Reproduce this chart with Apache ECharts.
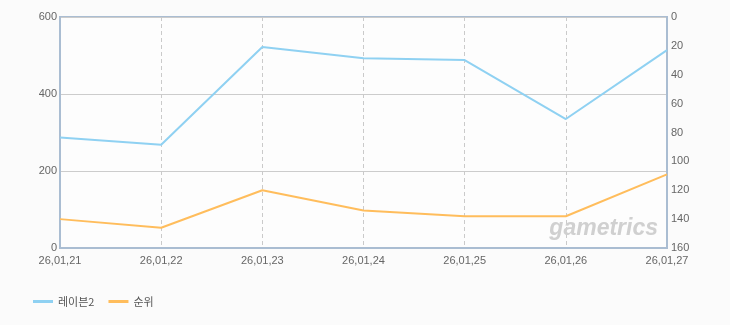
<!DOCTYPE html>
<html>
<head>
<meta charset="utf-8">
<script src="https://cdn.jsdelivr.net/npm/echarts@6/dist/echarts.min.js"></script>
<style>
html,body{margin:0;padding:0;background:#fbfbfb;}
#c{width:730px;height:325px;}
</style>
</head>
<body>
<div id="c"></div>
<script>
const categories = ['26,01,21','26,01,22','26,01,23','26,01,24','26,01,25','26,01,26','26,01,27'];
const raven2 = [287, 268, 522, 493, 488, 335, 514];
const rank = [140, 146, 120, 134, 138, 138, 109];
const leftTicks = {min: 0, max: 600, interval: 200};
const rightTicks = {min: 0, max: 160, interval: 20};

const chart = echarts.init(document.getElementById('c'));
const labelStyle = {color: '#666', fontSize: 11, fontFamily: 'Liberation Sans, Arial, sans-serif'};
chart.setOption({
  backgroundColor: '#fbfbfb',
  animation: false,
  grid: {left: 60, right: 63, top: 17, bottom: 77, show: true, backgroundColor: '#fdfdfd', borderColor: '#aabdd2', borderWidth: 2},
  legend: {
    left: 28, top: 291, icon: 'rect', itemWidth: 20, itemHeight: 3, itemGap: 14,
    textStyle: {color: '#555', fontSize: 11, fontFamily: 'Noto Sans CJK KR, sans-serif'},
    data: ['레이븐2', '순위']
  },
  xAxis: {
    type: 'category', data: categories, boundaryGap: false,
    axisLine: {show: true, lineStyle: {color: '#aabdd2', width: 2}},
    axisTick: {show: false},
    axisLabel: Object.assign({margin: 7, interval: 0}, labelStyle),
    splitLine: {show: true, lineStyle: {color: '#cacaca', type: [4, 3], width: 1}}
  },
  yAxis: [
    {type: 'value', min: leftTicks.min, max: leftTicks.max, interval: leftTicks.interval,
     axisLine: {show: true, lineStyle: {color: '#aabdd2', width: 2}},
     axisTick: {show: false}, axisLabel: Object.assign({margin: 3}, labelStyle),
     splitLine: {show: true, lineStyle: {color: '#cccccc', width: 1}}},
    {type: 'value', min: rightTicks.min, max: rightTicks.max, interval: rightTicks.interval, inverse: true,
     axisLine: {show: true, lineStyle: {color: '#aabdd2', width: 2}},
     axisTick: {show: false}, axisLabel: Object.assign({margin: 4}, labelStyle),
     splitLine: {show: false}}
  ],
  graphic: [{
    type: 'text', right: 72, bottom: 85, z: 1,
    style: {text: 'gametrics', fill: '#d0d0d0', font: 'italic bold 23px "Liberation Sans", Arial, sans-serif'}
  }],
  series: [
    {name: '레이븐2', type: 'line', yAxisIndex: 0, data: raven2, showSymbol: false, symbol: 'none',
     lineStyle: {color: '#8fd1f2', width: 2}, itemStyle: {color: '#8fd1f2'}, z: 3},
    {name: '순위', type: 'line', yAxisIndex: 1, data: rank, showSymbol: false, symbol: 'none',
     lineStyle: {color: '#ffbd5c', width: 2}, itemStyle: {color: '#ffbd5c'}, z: 3}
  ]
});
</script>
</body>
</html>
